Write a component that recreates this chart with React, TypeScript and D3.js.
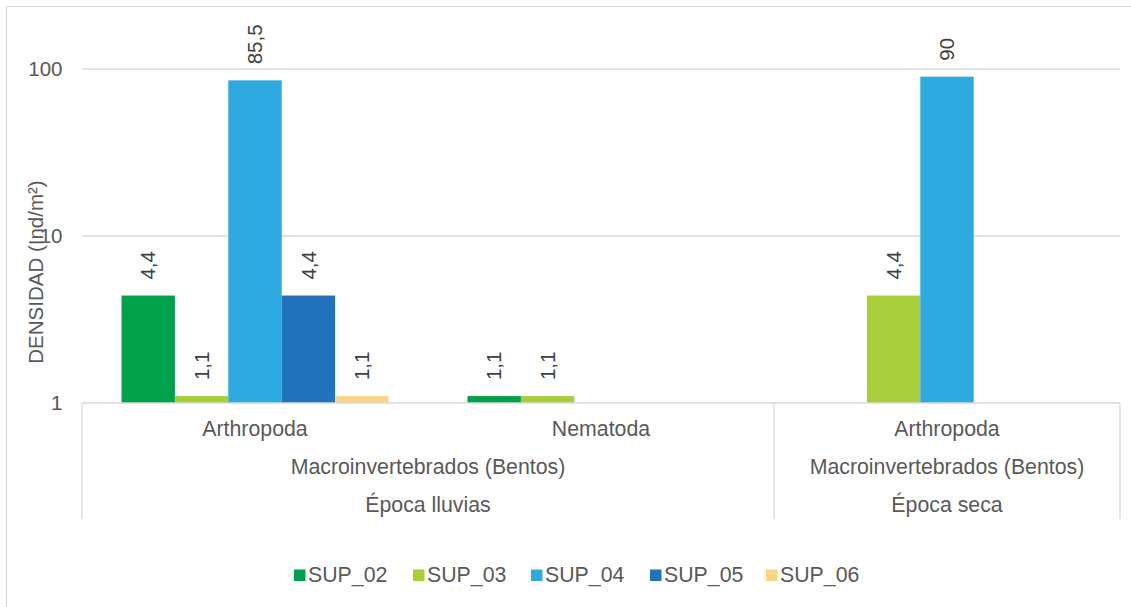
import React from "react";
import * as d3 from "d3";

const categories = ["Arthropoda", "Nematoda", "Arthropoda"];
const groupLevel2 = ["Macroinvertebrados (Bentos)", "Macroinvertebrados (Bentos)"];
const groupLevel3 = ["Época lluvias", "Época seca"];
const seriesNames = ["SUP_02", "SUP_03", "SUP_04", "SUP_05", "SUP_06"];
const SUP_02 = [4.4, 1.1, null];
const SUP_03 = [1.1, 1.1, 4.4];
const SUP_04 = [85.5, null, 90];
const SUP_05 = [4.4, null, null];
const SUP_06 = [1.1, null, null];
const seriesValues: (number | null)[][] = [SUP_02, SUP_03, SUP_04, SUP_05, SUP_06];
const colors = ["#00A14B", "#A8CE3A", "#2DAAE0", "#2373BC", "#F7D681"];
const yTicks = [1, 10, 100];
const yTitle = "DENSIDAD (Ind/m²)";

const W = 1131;
const H = 607;
const left = 82;
const right = 1120;
const top = 69;
const bottom = 403;
const FONT = "'Liberation Sans', Arial, sans-serif";
const FS = 20.5;
const FS_CAT = 21.3;
const grid = "#D9D9D9";

export default function App() {
  const x0 = d3.scaleBand<number>().domain(d3.range(categories.length)).range([left, right]).paddingInner(0).paddingOuter(0);
  const x1 = d3.scaleBand<string>().domain(seriesNames).range([0, x0.bandwidth()]).paddingInner(0).paddingOuter(0.74);
  const y = d3.scaleLog().domain([1, 100]).range([bottom, top]);
  const fmt = (v: number) => String(v).replace(".", ",");

  const xLluviasEnd = x0(2)!;
  const legendX = [294, 413, 531, 650, 766];

  return (
    <svg width={W} height={H} style={{ position: "absolute", left: 0, top: 0, background: "#fff" }} fontFamily={FONT}>
      <rect x={6.5} y={6.5} width={W} height={H} fill="none" stroke={grid} strokeWidth={1} />
      {yTicks.slice(1).map((t) => (
        <line key={t} x1={left} x2={right} y1={y(t)} y2={y(t)} stroke={grid} strokeWidth={1.3} />
      ))}
      {yTicks.map((t) => (
        <text key={t} x={62.5} y={y(t)} dy="0.35em" textAnchor="end" fontSize={FS} fill="#595959">{t}</text>
      ))}
      <text transform={`translate(43,272) rotate(-90)`} textAnchor="middle" fontSize={FS} fill="#595959">{yTitle}</text>

      {seriesValues.map((vals, si) =>
        vals.map((v, ci) => {
          if (v == null) return null;
          const bx = x0(ci)! + x1(seriesNames[si])!;
          const bw = x1.bandwidth();
          return (
            <g key={`${si}-${ci}`}>
              <rect x={bx} y={y(v)} width={bw} height={y(1) - y(v)} fill={colors[si]} />
              <text transform={`translate(${bx + bw / 2},${y(v) - 16}) rotate(-90)`} dy="0.35em" textAnchor="start" fontSize={FS} fill="#404040">{fmt(v)}</text>
            </g>
          );
        })
      )}

      {/* category axis box */}
      <line x1={left} x2={right} y1={bottom} y2={bottom} stroke={grid} strokeWidth={1.5} />
      {[left, xLluviasEnd, right].map((xv, i) => (
        <line key={i} x1={xv} x2={xv} y1={bottom} y2={519} stroke={grid} strokeWidth={1.3} />
      ))}
      {categories.map((c, i) => (
        <text key={i} x={x0(i)! + x0.bandwidth() / 2} y={436} textAnchor="middle" fontSize={FS_CAT} fill="#595959">{c}</text>
      ))}
      {[[left, xLluviasEnd], [xLluviasEnd, right]].map(([a, b], i) => (
        <g key={i}>
          <text x={(a + b) / 2} y={474} textAnchor="middle" fontSize={FS_CAT} fill="#595959">{groupLevel2[i]}</text>
          <text x={(a + b) / 2} y={512} textAnchor="middle" fontSize={FS_CAT} fill="#595959">{groupLevel3[i]}</text>
        </g>
      ))}

      {seriesNames.map((s, i) => (
        <g key={s} transform={`translate(${legendX[i]},0)`}>
          <rect x={0} y={569.5} width={11.5} height={11.5} fill={colors[i]} />
          <text x={14} y={582} fontSize={FS_CAT} fill="#595959">{s}</text>
        </g>
      ))}
    </svg>
  );
}
